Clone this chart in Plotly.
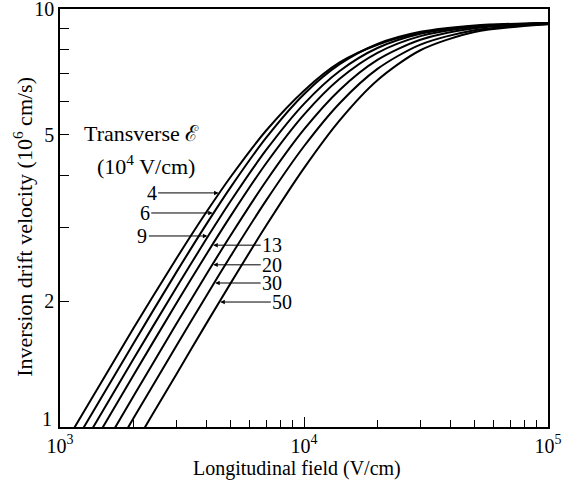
import plotly.graph_objects as go

# longitudinal field (V/cm) sample points
field = [1000, 2000, 3000, 4000, 5000, 7000, 10000, 14000, 20000, 30000, 50000, 100000]

# drift velocity (1e6 cm/s) for each transverse field (1e4 V/cm)
v_4 = [0.872, 1.723, 2.530, 3.281, 3.964, 5.121, 6.378, 7.45, 8.214, 8.768, 9.097, 9.248]
v_6 = [0.800, 1.585, 2.347, 3.070, 3.744, 4.923, 6.255, 7.378, 8.246, 8.818, 9.136, 9.264]
v_9 = [0.733, 1.454, 2.157, 2.831, 3.467, 4.600, 5.931, 7.108, 8.066, 8.725, 9.099, 9.260]
v_13 = [0.669, 1.330, 1.977, 2.601, 3.195, 4.276, 5.590, 6.810, 7.857, 8.613, 9.059, 9.244]
v_20 = [0.595, 1.184, 1.765, 2.329, 2.872, 3.878, 5.151, 6.403, 7.553, 8.439, 8.991, 9.232]
v_30 = [0.526, 1.049, 1.565, 2.070, 2.561, 3.484, 4.695, 5.952, 7.190, 8.220, 8.900, 9.210]
v_50 = [0.448, 0.897, 1.338, 1.777, 2.206, 3.033, 4.162, 5.415, 6.754, 7.967, 8.811, 9.192]

labels = ["4", "6", "9", "13", "20", "30", "50"]
series = [v_4, v_6, v_9, v_13, v_20, v_30, v_50]

font = "Liberation Serif, Times New Roman, serif"

fig = go.Figure()
for lab, v in zip(labels, series):
    fig.add_trace(go.Scatter(x=field, y=v, mode="lines", name=lab,
                             line=dict(color="black", width=2, shape="spline", smoothing=0.8),
                             showlegend=False))

# arrow labels: (label, head x log10, head y log10, x offset px)
arrows = [("4", 3.654, 0.560, -68), ("6", 3.630, 0.512, -69), ("9", 3.608, 0.457, -66),
          ("13", 3.624, 0.435, 60), ("20", 3.624, 0.388, 60), ("30", 3.632, 0.3445, 58),
          ("50", 3.653, 0.299, 63)]
for lab, hx, hy, ax in arrows:
    fig.add_annotation(x=hx, y=hy, xref="x", yref="y", text=lab, showarrow=True,
                       ax=ax, ay=0, arrowhead=2, arrowsize=0.9, arrowwidth=1,
                       arrowcolor="black", standoff=1,
                       font=dict(family=font, size=20, color="black"))

fig.add_annotation(x=0.168, y=0.703, xref="paper", yref="paper", showarrow=False,
                   xanchor="center", yanchor="middle",
                   text="Transverse ℰ", font=dict(family=font, size=22, color="black"))
fig.add_annotation(x=0.176, y=0.627, xref="paper", yref="paper", showarrow=False,
                   xanchor="center", yanchor="middle",
                   text="(10<sup>4</sup> V/cm)", font=dict(family=font, size=22, color="black"))
# the "1" label sits a little above the corner in the original
fig.add_annotation(x=-0.012, y=0.02, xref="paper", yref="paper", showarrow=False,
                   xanchor="right", yanchor="middle",
                   text="1", font=dict(family=font, size=20, color="black"))

# axis titles as annotations so they sit where the original puts them
fig.add_annotation(x=-0.075, y=0.48, xref="paper", yref="paper", showarrow=False,
                   xanchor="center", yanchor="middle", textangle=-90,
                   text="Inversion drift velocity (10<sup>6</sup> cm/s)",
                   font=dict(family=font, size=22, color="black"))
fig.add_annotation(x=0.486, y=-0.099, xref="paper", yref="paper", showarrow=False,
                   xanchor="center", yanchor="middle",
                   text="Longitudinal field (V/cm)",
                   font=dict(family=font, size=20, color="black"))

x_minor = [2000, 3000, 4000, 5000, 6000, 7000, 8000, 9000,
           20000, 30000, 40000, 50000, 60000, 70000, 80000, 90000]
y_minor = [3, 4, 6, 7, 8, 9]

fig.update_xaxes(type="log", range=[3, 5], showline=True, mirror=True, linecolor="black",
                 linewidth=1.5, showgrid=False, zeroline=False, automargin=False,
                 ticklabeloverflow="allow",
                 tickmode="array", tickvals=[1000, 10000, 100000],
                 ticktext=["10<sup>3</sup>", "10<sup>4</sup>", "10<sup>5</sup>"],
                 ticks="inside", ticklen=10, tickcolor="black",
                 minor=dict(tickmode="array", tickvals=x_minor, ticks="inside", ticklen=7,
                            tickcolor="black", showgrid=False),
                 tickfont=dict(family=font, size=20, color="black"))
fig.update_yaxes(type="log", range=[0, 1], showline=True, mirror=True, linecolor="black",
                 linewidth=1.5, showgrid=False, zeroline=False, automargin=False,
                 ticklabeloverflow="allow",
                 tickmode="array", tickvals=[1, 2, 5, 10], ticktext=["", "2", "5", "10"],
                 ticks="inside", ticklen=9, tickcolor="black",
                 minor=dict(tickmode="array", tickvals=y_minor, ticks="inside", ticklen=9,
                            tickcolor="black", showgrid=False),
                 tickfont=dict(family=font, size=20, color="black"))

fig.update_layout(width=564, height=482, plot_bgcolor="white", paper_bgcolor="white",
                  margin=dict(l=60, r=16, t=9, b=55),
                  font=dict(family=font, size=20, color="black"))

# the page body has a default 8px margin; drop it so the figure fills the window
fig.write_html("out.html", config={"displayModeBar": False},
               post_script="document.body.style.margin='0px';")
